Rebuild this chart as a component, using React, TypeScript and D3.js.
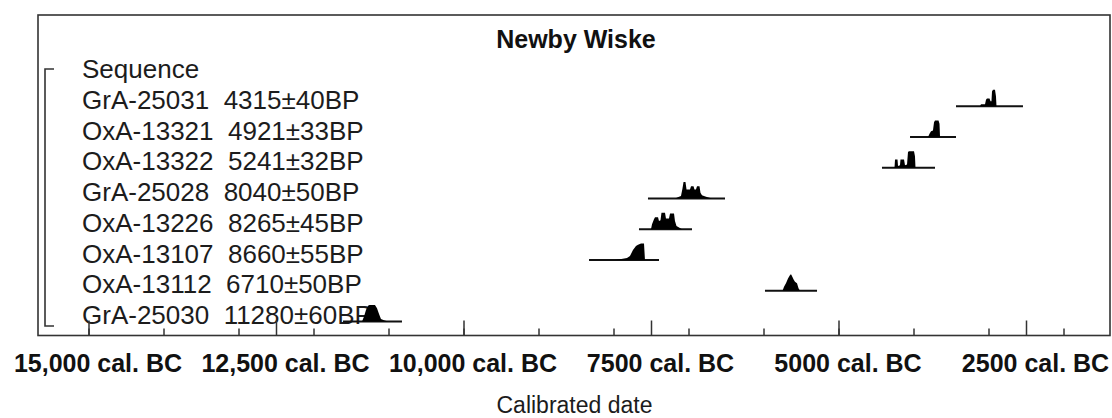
import React from "react";
import * as d3 from "d3";

const title = "Newby Wiske";
const groupLabel = "Sequence";
const sampleNames = ["GrA-25031", "OxA-13321", "OxA-13322", "GrA-25028", "OxA-13226", "OxA-13107", "OxA-13112", "GrA-25030"];
const bpLabels = ["4315±40BP", "4921±33BP", "5241±32BP", "8040±50BP", "8265±45BP", "8660±55BP", "6710±50BP", "11280±60BP"];
// range bars (cal. BC)
const rangeFrom = [3440, 4053, 4427, 7547, 7667, 8333, 5987, 11613];
const rangeTo = [2547, 3440, 3720, 6520, 6960, 7400, 5293, 10827];

// probability distributions: [year cal. BC, relative probability]
const distGrA25031: [number, number][] = [[3120, 0], [3107, 0.12], [3053, 0.12], [3040, 0.4], [3027, 0.47], [2993, 0.47], [2980, 0.3], [2967, 0.3], [2960, 0.9], [2947, 1], [2920, 1], [2907, 0.6], [2900, 0]];
const distOxA13321: [number, number][] = [[3813, 0], [3793, 0.2], [3773, 0.35], [3747, 0.4], [3733, 0.9], [3720, 1], [3673, 1], [3660, 0.8], [3653, 0]];
const distOxA13322: [number, number][] = [[4260, 0], [4253, 0.5], [4220, 0.5], [4213, 0.1], [4187, 0.15], [4180, 0.5], [4133, 0.5], [4120, 0.15], [4093, 0.2], [4080, 0.95], [4067, 1], [4000, 1], [3987, 0.7], [3980, 0]];
const distGrA25028: [number, number][] = [[7187, 0], [7133, 0.1], [7107, 0.15], [7087, 0.6], [7073, 1], [7047, 1], [7033, 0.55], [6987, 0.55], [6973, 0.75], [6940, 0.75], [6927, 0.55], [6907, 0.55], [6893, 0.75], [6860, 0.75], [6847, 0.35], [6827, 0.2], [6773, 0.1], [6693, 0]];
const distOxA13226: [number, number][] = [[7507, 0], [7493, 0.3], [7467, 0.6], [7453, 0.72], [7413, 0.72], [7400, 0.5], [7380, 0.55], [7367, 1], [7320, 1], [7307, 0.65], [7267, 0.65], [7253, 0.95], [7200, 0.95], [7187, 0.5], [7167, 0.2], [7133, 0.1], [7093, 0]];
const distOxA13107: [number, number][] = [[7987, 0], [7920, 0.05], [7827, 0.12], [7787, 0.25], [7747, 0.6], [7707, 0.85], [7680, 0.92], [7640, 1], [7600, 1], [7587, 0]];
const distOxA13112: [number, number][] = [[5753, 0], [5733, 0.25], [5707, 0.45], [5680, 0.75], [5653, 0.95], [5640, 1], [5627, 0.9], [5607, 0.7], [5587, 0.55], [5560, 0.45], [5540, 0.15], [5520, 0]];
const distGrA25030: [number, number][] = [[11360, 0], [11333, 0.3], [11307, 0.7], [11280, 0.95], [11260, 1], [11187, 1], [11160, 0.8], [11133, 0.45], [11107, 0.15], [11067, 0.07], [11013, 0]];
const distributions = [distGrA25031, distOxA13321, distOxA13322, distGrA25028, distOxA13226, distOxA13107, distOxA13112, distGrA25030];

const minorTicks = [15000, 14000, 13000, 12000, 11000, 10000, 9000, 8000, 7000, 6000, 5000, 4000, 3000, 2000];
const majorTicks = [15000, 12500, 10000, 7500, 5000, 2500];
const tickLabels = ["15,000 cal. BC", "12,500 cal. BC", "10,000 cal. BC", "7500 cal. BC", "5000 cal. BC", "2500 cal. BC"];
const axisTitle = "Calibrated date";

const W = 1112;
const H = 418;
const frame = { left: 38, top: 15, right: 1110, bottom: 335.5 };

export default function App() {
  const x = d3.scaleLinear().domain([15000, 2500]).range([89, 1026.5]);
  const rows = [groupLabel, ...sampleNames];
  const y = d3.scalePoint<string>().domain(rows).range([75.5, 321.5]);
  const h = d3.scaleLinear().domain([0, 1]).range([0, 16.5]);
  const font = "'Liberation Sans', Arial, sans-serif";
  const ink = "#1c1c1c";

  return (
    <svg width={W} height={H} style={{ position: "absolute", left: 0, top: 0, background: "#fff" }} fontFamily={font}>
      <rect x={frame.left} y={frame.top} width={frame.right - frame.left} height={frame.bottom - frame.top} fill="none" stroke="#333" strokeWidth={1.6} />
      <text x={576} y={48} textAnchor="middle" fontSize={25} fontWeight="bold" fill="#111">{title}</text>

      {/* bracket */}
      <path d={`M54,${y(groupLabel)! - 6.5}H45V${y(sampleNames[7])! + 4.5}H54`} fill="none" stroke="#333" strokeWidth={1.6} />

      {rows.map((r, i) => (
        <text key={r} x={82} y={y(r)! + 2.5} fontSize={26} fill={ink} style={{ whiteSpace: "pre" }}>
          {i === 0 ? r : `${r}  ${bpLabels[i - 1]}`}
        </text>
      ))}

      {sampleNames.map((n, i) => {
        const base = y(n)!;
        const area = d3.area<[number, number]>()
          .x(d => x(d[0]))
          .y0(base)
          .y1(d => base - h(d[1]));
        return (
          <g key={n}>
            <line x1={x(rangeFrom[i])} x2={x(rangeTo[i])} y1={base} y2={base} stroke="#111" strokeWidth={1.8} />
            <path d={area(distributions[i]) || ""} fill="#000" />
          </g>
        );
      })}

      {/* axis ticks */}
      {minorTicks.map(t => (
        <line key={"mi" + t} x1={x(t)} x2={x(t)} y1={frame.bottom} y2={frame.bottom - 7} stroke="#333" strokeWidth={1.5} />
      ))}
      {majorTicks.map(t => (
        <line key={"ma" + t} x1={x(t)} x2={x(t)} y1={frame.bottom} y2={frame.bottom - 15} stroke="#333" strokeWidth={1.5} />
      ))}
      {majorTicks.map((t, i) => (
        <text key={"lb" + t} x={x(t) + 9} y={372} textAnchor="middle" fontSize={25} fontWeight="bold" fill="#111">{tickLabels[i]}</text>
      ))}
      <text x={574.5} y={413} textAnchor="middle" fontSize={23} fill={ink}>{axisTitle}</text>
    </svg>
  );
}
